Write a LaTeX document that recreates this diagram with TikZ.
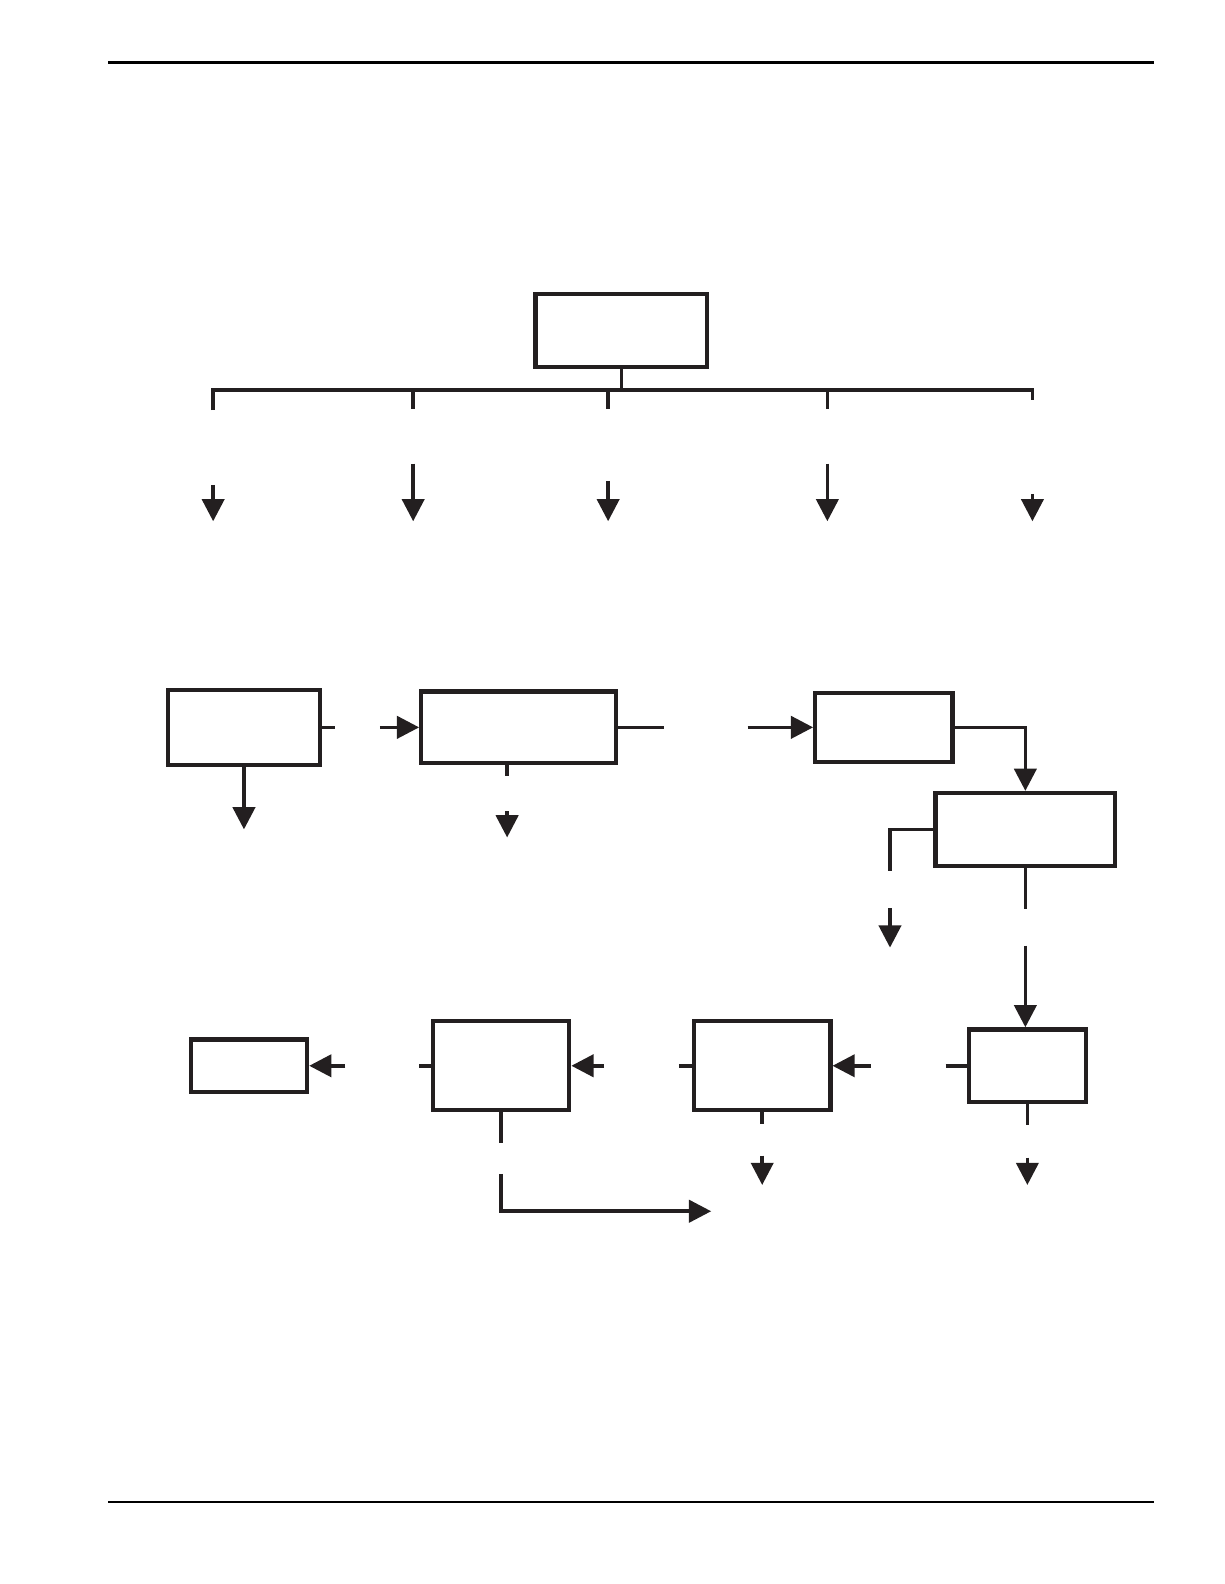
\documentclass[tikz,border=0pt]{standalone}
\usetikzlibrary{
  positioning,
  arrows.meta
}
\usepackage{xcolor}
\definecolor{ink}{HTML}{231F20}

\begin{document}
\begin{tikzpicture}[
  x=0.02cm, y=-0.02cm,
  every path/.style={ink},
  box/.style={draw=ink, line width=2.4pt, inner sep=0pt},
  link/.style={line width=2pt},
  arr/.style={line width=2pt, -{Triangle[length=0.44cm, width=0.44cm]}},
  rule/.style={line width=1.3pt, black}
]
  \useasboundingbox (0,0) rectangle (1212,1568);

  % page rules
  \draw[rule] (107,62) -- (1142,62);
  \draw[rule] (107,1487) -- (1142,1487);

  % top box and bus
  \node[box, minimum width=3.4cm, minimum height=1.44cm] (head) at (615,327) {};
  \coordinate (busL) at (211,386);
  \coordinate (busR) at (1022,386);
  \draw[link] (head.south) -- (head.south |- busL);
  \draw[link] (211,406) -- (busL) -- (busR) -- (1022,396);
  \foreach \x in {409,602,819}
    \draw[link] (\x,386) -- (\x,405);
  \foreach \x/\s in {211/480, 409/459, 602/476, 819/459, 1022/489}
    \draw[arr] (\x,\s) -- (\x,516);

  % second row
  \node[box, minimum width=3.02cm, minimum height=1.48cm] (intake) at (241.5,720) {};
  \node[box, minimum width=3.86cm, minimum height=1.42cm] (review) at (513.5,720) {};
  \node[box, minimum width=2.72cm, minimum height=1.36cm] (check) at (875,720) {};
  \node[box, minimum width=3.56cm, minimum height=1.44cm] (decide) at (1015,821) {};

  \coordinate (revStub) at (657,720);
  \draw[link] (intake.east) -- (332,720);
  \draw[arr] (376,720) -- (review.west);
  \draw[arr] (intake.south) -- (241.5,821);

  \coordinate (revOut) at (502,768);
  \draw[link] (review.east) -- (revStub);
  \draw[link] (revOut |- review.south) -- (revOut);
  \draw[arr] (502,803) -- (502,829);

  \draw[arr] (740,720) -- (check.west);
  \draw[arr] (check.east) -| (decide.north);

  \draw[link] (decide.west) -| (881,862);
  \draw[arr] (881,899) -- (881,938);
  \draw[link] (decide.south) -- (1015,900);

  % third row
  \node[box, minimum width=2.32cm, minimum height=1.44cm] (accept) at (1017,1055) {};
  \node[box, minimum width=2.7cm, minimum height=1.76cm] (build) at (754.5,1055) {};
  \node[box, minimum width=2.7cm, minimum height=1.76cm] (test) at (496,1055) {};
  \node[box, minimum width=2.3cm, minimum height=1.04cm] (done) at (246.5,1055) {};

  \coordinate (accIn) at (1015,936);
  \draw[arr] (accIn) -- (accIn |- accept.north);
  \draw[link] (936,1055) -- (accept.west);
  \draw[link] (accept.south) -- (1017,1114);
  \draw[arr] (1017,1146) -- (1017,1173);

  \draw[arr] (862,1055) -- (build.east);
  \draw[link] (672,1055) -- (build.west);
  \draw[link] (build.south) -- (754.5,1113);
  \draw[arr] (754.5,1144) -- (754.5,1173);

  \draw[arr] (598,1055) -- (test.east);
  \draw[link] (415,1055) -- (test.west);
  \draw[link] (test.south) -- (496,1131);
  \coordinate (retEnd) at (704,1199);
  \draw[arr] (496,1162) |- (retEnd);

  \draw[arr] (342,1055) -- (done.east);
\end{tikzpicture}
\end{document}
